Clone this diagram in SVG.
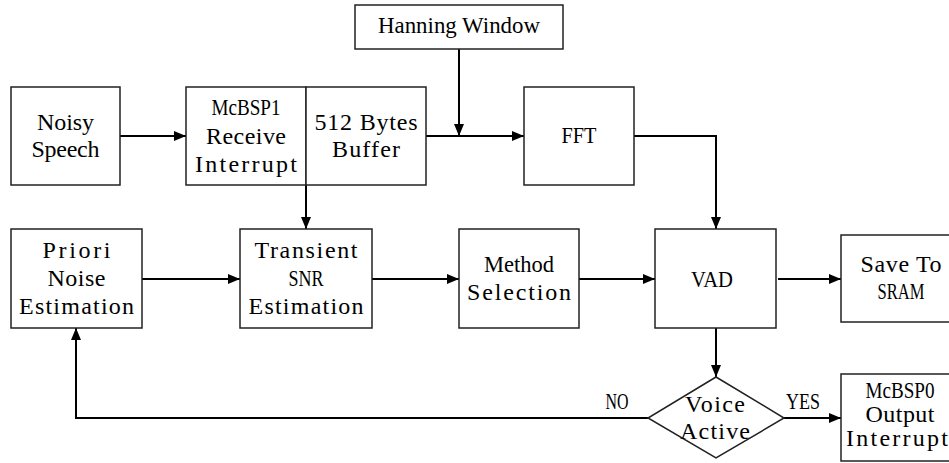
<svg xmlns="http://www.w3.org/2000/svg" width="949" height="463" viewBox="0 0 949 463">
<style>
.box{fill:#fff;stroke:#222;stroke-width:1.5}
.t{font-family:"Liberation Serif","Times New Roman",serif;font-size:24px;fill:#000;text-anchor:middle}
.c{fill:none;stroke:#000;stroke-width:2}
</style>
<defs>
<marker id="ah" markerUnits="userSpaceOnUse" markerWidth="12" markerHeight="10" refX="12" refY="5" orient="auto">
<path d="M0,0 L12,5 L0,10 z" fill="#000"/>
</marker>
</defs>
<rect width="949" height="463" fill="#fff"/>
<g id="connectors">
<path class="c" d="M120,136 H186" marker-end="url(#ah)"/>
<path class="c" d="M459,49 V136" marker-end="url(#ah)"/>
<path class="c" d="M426,136 H524" marker-end="url(#ah)"/>
<path class="c" d="M634,136 H716 V229" marker-end="url(#ah)"/>
<path class="c" d="M306,185 V229" marker-end="url(#ah)"/>
<path class="c" d="M142,279 H240" marker-end="url(#ah)"/>
<path class="c" d="M372,279 H459" marker-end="url(#ah)"/>
<path class="c" d="M579,279 H655" marker-end="url(#ah)"/>
<path class="c" d="M778,279 H841" marker-end="url(#ah)"/>
<path class="c" d="M716,328 V377" marker-end="url(#ah)"/>
<path class="c" d="M648,418 H76 V328" marker-end="url(#ah)"/>
<path class="c" d="M784,418 H841" marker-end="url(#ah)"/>
<text class="t" x="617" y="409" textLength="23" lengthAdjust="spacingAndGlyphs">NO</text>
<text class="t" x="803" y="409" textLength="34" lengthAdjust="spacingAndGlyphs">YES</text>
</g>
<g id="noisy">
<rect class="box" x="11" y="87" width="109" height="98"/>
<text class="t" x="65.5" y="130" textLength="57" lengthAdjust="spacing">Noisy</text>
<text class="t" x="65.5" y="157" textLength="68" lengthAdjust="spacing">Speech</text>
</g>
<g id="mcbsp1">
<rect class="box" x="186" y="87" width="120" height="98"/>
<text class="t" x="246" y="115" textLength="69" lengthAdjust="spacingAndGlyphs">McBSP1</text>
<text class="t" x="246" y="144" textLength="80" lengthAdjust="spacing">Receive</text>
<text class="t" x="246" y="172" textLength="102" lengthAdjust="spacing">Interrupt</text>
</g>
<g id="buffer">
<rect class="box" x="306" y="87" width="120" height="98"/>
<text class="t" x="366" y="130" textLength="103" lengthAdjust="spacing">512 Bytes</text>
<text class="t" x="366" y="157" textLength="68" lengthAdjust="spacing">Buffer</text>
</g>
<g id="hanning">
<rect class="box" x="355" y="5" width="208" height="44"/>
<text class="t" x="459" y="33" textLength="162" lengthAdjust="spacingAndGlyphs">Hanning Window</text>
</g>
<g id="fft">
<rect class="box" x="524" y="87" width="110" height="98"/>
<text class="t" x="579" y="143" textLength="35" lengthAdjust="spacingAndGlyphs">FFT</text>
</g>
<g id="priori">
<rect class="box" x="11" y="229" width="131" height="99"/>
<text class="t" x="76.5" y="258" textLength="68" lengthAdjust="spacing">Priori</text>
<text class="t" x="76.5" y="286" textLength="58" lengthAdjust="spacing">Noise</text>
<text class="t" x="76.5" y="314" textLength="115" lengthAdjust="spacing">Estimation</text>
</g>
<g id="transient">
<rect class="box" x="240" y="229" width="132" height="99"/>
<text class="t" x="306" y="258" textLength="103" lengthAdjust="spacing">Transient</text>
<text class="t" x="306" y="286" textLength="35" lengthAdjust="spacingAndGlyphs">SNR</text>
<text class="t" x="306" y="314" textLength="115" lengthAdjust="spacing">Estimation</text>
</g>
<g id="method">
<rect class="box" x="459" y="229" width="120" height="99"/>
<text class="t" x="519" y="272" textLength="70" lengthAdjust="spacingAndGlyphs">Method</text>
<text class="t" x="519" y="300" textLength="104" lengthAdjust="spacing">Selection</text>
</g>
<g id="vad">
<rect class="box" x="655" y="229" width="121" height="99"/>
<text class="t" x="712" y="287" textLength="42" lengthAdjust="spacingAndGlyphs">VAD</text>
</g>
<g id="save">
<rect class="box" x="841" y="235" width="120" height="87"/>
<text class="t" x="901" y="272" textLength="81" lengthAdjust="spacing">Save To</text>
<text class="t" x="901" y="299" textLength="47" lengthAdjust="spacingAndGlyphs">SRAM</text>
</g>
<g id="voice">
<polygon class="box" points="716,377 784,418 716,458 648,418"/>
<text class="t" x="715" y="412" textLength="60" lengthAdjust="spacing">Voice</text>
<text class="t" x="715" y="439" textLength="70" lengthAdjust="spacing">Active</text>
</g>
<g id="mcbsp0">
<rect class="box" x="841" y="374" width="120" height="87"/>
<text class="t" x="900" y="398" textLength="69" lengthAdjust="spacingAndGlyphs">McBSP0</text>
<text class="t" x="900" y="422" textLength="69" lengthAdjust="spacing">Output</text>
<text class="t" x="897" y="446" textLength="102" lengthAdjust="spacing">Interrupt</text>
</g>
</svg>
